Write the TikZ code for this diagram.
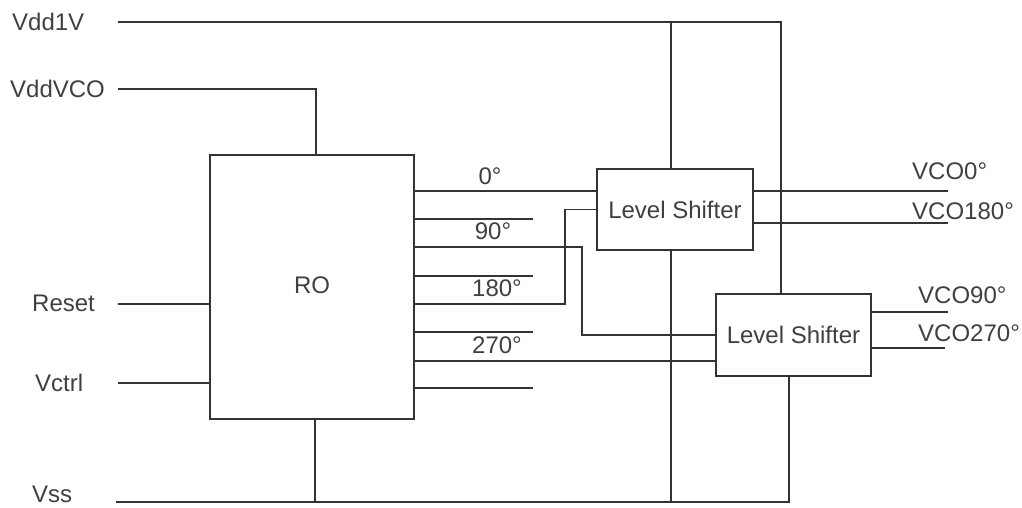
\documentclass[tikz,border=0pt]{standalone}
\usepackage{fontspec}
\setmainfont{Liberation Sans}
\begin{document}
\begin{tikzpicture}[x=1pt,y=-1pt,
  wire/.style={draw=black!80,line width=1.8pt},
  blk/.style={draw=black!80,line width=1.8pt,rectangle,inner sep=0pt,fill=white,
    text=black!75,font=\fontsize{24}{28}\selectfont},
  lbl/.style={inner sep=0pt,text=black!75,font=\fontsize{24}{28}\selectfont}]
\useasboundingbox (0,0) rectangle (1022,508);
% blocks
\node[blk,minimum width=204pt,minimum height=264pt] (RO) at (312,287) {\raisebox{4pt}{RO}};
\node[blk,minimum width=156pt,minimum height=81pt] (LS1) at (675,209.5) {Level Shifter};
\node[blk,minimum width=155pt,minimum height=82pt] (LS2) at (793.5,335) {Level Shifter};
% left labels
\node[lbl,anchor=west] (tVdd1V) at (12,22) {Vdd1V};
\node[lbl,anchor=west] (tVddVCO) at (10,89) {VddVCO};
\node[lbl,anchor=west] (tReset) at (32,303) {Reset};
\node[lbl,anchor=west] (tVctrl) at (35,383) {Vctrl};
\node[lbl,anchor=west] (tVss) at (32,494) {Vss};
% phase labels
\node[lbl] (t0) at (490,176) {0°};
\node[lbl] (t90) at (493,231) {90°};
\node[lbl] (t180) at (497,288) {180°};
\node[lbl] (t270) at (497,345) {270°};
% output labels
\node[lbl,anchor=west] (tV0) at (912,171) {VCO0°};
\node[lbl,anchor=west] (tV180) at (912,211) {VCO180°};
\node[lbl,anchor=west] (tV90) at (918,295) {VCO90°};
\node[lbl,anchor=west] (tV270) at (918,333) {VCO270°};
% coordinates
\coordinate (vdd1) at (118,22);
\coordinate (vdd1e) at (781,22);
\coordinate (vddvco) at (118,89);
\coordinate (vcoc) at (316,89);
\coordinate (rst) at (118,304);
\coordinate (vct) at (118,383);
\coordinate (vss) at (116,502);
\coordinate (vsse) at (789,502);
\coordinate (p0) at (533,191);
\coordinate (s1) at (533,219);
\coordinate (p90) at (582,247);
\coordinate (s2) at (533,276);
\coordinate (p180) at (565,304);
\coordinate (s3) at (533,332);
\coordinate (p270) at (533,361);
\coordinate (s4) at (533,388);
\coordinate (o0) at (948,191);
\coordinate (o180) at (948,223);
\coordinate (o90) at (948,312);
\coordinate (o270) at (945,348);
% supplies
\draw[wire] (vdd1) -- (vdd1e) -- (vdd1e |- LS2.north);
\draw[wire] ([xshift=-4pt]LS1.north) -- ([xshift=-4pt]LS1.north |- vdd1);
\draw[wire] (vddvco) -- (vcoc) -- (vcoc |- RO.north);
\draw[wire] (vss) -- (vsse) -- (vsse |- LS2.south);
\draw[wire] ([xshift=3pt]RO.south) -- ([xshift=3pt]RO.south |- vss);
\draw[wire] ([xshift=-4pt]LS1.south) -- ([xshift=-4pt]LS1.south |- vss);
% inputs
\draw[wire] (rst) -- (RO.west |- rst);
\draw[wire] (vct) -- (RO.west |- vct);
% RO outputs
\draw[wire] (RO.east |- p0) -- (LS1.west |- p0);
\draw[wire] (RO.east |- s1) -- (s1);
\draw[wire] (RO.east |- p90) -| (p90 |- LS2.west) -- (LS2.west);
\draw[wire] (RO.east |- s2) -- (s2);
\draw[wire] (RO.east |- p180) -| (p180 |- LS1.west) -- (LS1.west);
\draw[wire] (RO.east |- s3) -- (s3);
\draw[wire] (RO.east |- p270) -- (LS2.west |- p270);
\draw[wire] (RO.east |- s4) -- (s4);
% LS outputs
\draw[wire] (LS1.east |- o0) -- (o0);
\draw[wire] (LS1.east |- o180) -- (o180);
\draw[wire] (LS2.east |- o90) -- (o90);
\draw[wire] (LS2.east |- o270) -- (o270);
\end{tikzpicture}
\end{document}
